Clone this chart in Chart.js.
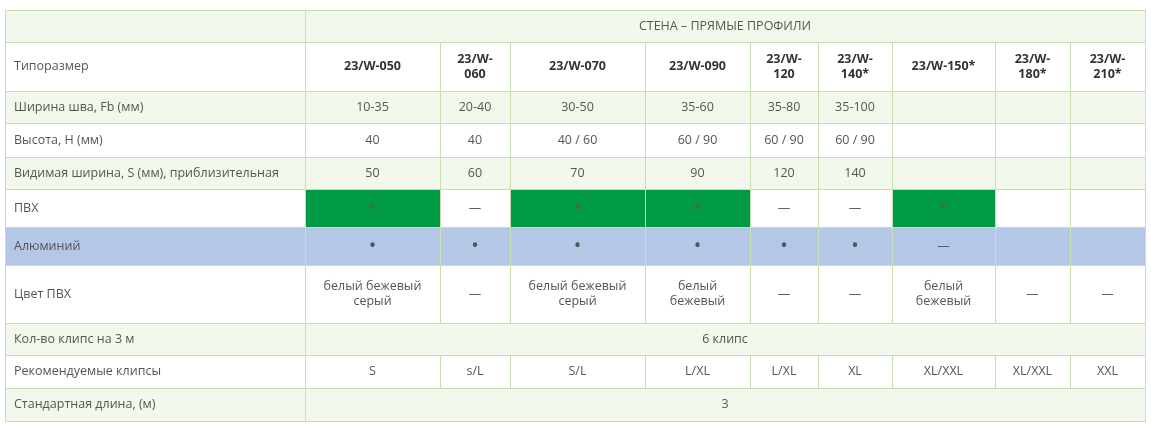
<!DOCTYPE html>
<html><head><meta charset="utf-8">
<script src="https://cdn.jsdelivr.net/npm/chart.js@4"></script>
<style>html,body{margin:0;padding:0;background:#fff}#w{width:1151px;height:425px}</style>
</head><body><div id="w"><canvas id="c"></canvas></div>
<script>
const title = "СТЕНА – ПРЯМЫЕ ПРОФИЛИ";
const rowLabels = ["Типоразмер","Ширина шва, Fb (мм)","Высота, H (мм)","Видимая ширина, S (мм), приблизительная","ПВХ","Алюминий","Цвет ПВХ","Кол-во клипс на 3 м","Рекомендуемые клипсы","Стандартная длина, (м)"];
const sizes = ["23/W-050","23/W-\n060","23/W-070","23/W-090","23/W-\n120","23/W-\n140*","23/W-150*","23/W-\n180*","23/W-\n210*"];
const seamWidth = ["10-35","20-40","30-50","35-60","35-80","35-100","","",""];
const heightH = ["40","40","40 / 60","60 / 90","60 / 90","60 / 90","","",""];
const visibleS = ["50","60","70","90","120","140","","",""];
const pvc = ["•","—","•","•","—","—","•","",""];
const alu = ["•","•","•","•","•","•","—","",""];
const pvcColor = ["белый бежевый\nсерый","—","белый бежевый\nсерый","белый\nбежевый","—","—","белый\nбежевый","—","—"];
const clipsCount = "6 клипс";
const clips = ["S","s/L","S/L","L/XL","L/XL","XL","XL/XXL","XL/XXL","XXL"];
const stdLength = "3";

// layout
const colX = [5,305,440,510,645,750,818,892,995,1070,1145];
const rowY = [10,42,91,123,157,189,227,265,323,355,388,421];
const C = {border:"#c8e0b0", light:"#f3f8ec", green:"#009a44", blue:"#b4c7e7", text:"#555", bold:"#333"};

const tablePlugin = {
  id:"table",
  afterDraw(chart){
    const ctx = chart.ctx, xs = chart.scales.x, ys = chart.scales.y;
    const X = v=>xs.getPixelForValue(v), Y = v=>ys.getPixelForValue(v);
    function cell(c0,c1,r,bg,text,opts={}){
      const x0=X(colX[c0]),x1=X(colX[c1]),y0=Y(rowY[r]),y1=Y(rowY[r+1]);
      if(bg){ctx.fillStyle=bg;ctx.fillRect(x0,y0,x1-x0,y1-y0);}
      ctx.strokeStyle=C.border;ctx.lineWidth=1;
      ctx.strokeRect(Math.round(x0)+0.5,Math.round(y0)+0.5,Math.round(x1-x0),Math.round(y1-y0));
      if(text){
        ctx.font=(opts.bold?"bold ":"")+(opts.size||12.5)+"px 'Open Sans'";
        ctx.fillStyle=opts.color||(opts.bold?C.bold:C.text);
        ctx.textBaseline="middle";
        const lines=text.split("\n"), lh=15;
        const cy=(y0+y1)/2-(lines.length-1)*lh/2;
        lines.forEach((l,i)=>{
          if(opts.left){ctx.textAlign="left";ctx.fillText(l,x0+9,cy+i*lh);}
          else{ctx.textAlign="center";ctx.fillText(l,(x0+x1)/2,cy+i*lh);}
        });
      }
    }
    const rowBg=[C.light,null,C.light,null,C.light,null,C.blue,null,C.light,null,C.light];
    cell(0,1,0,C.light,"");
    cell(1,10,0,C.light,title);
    const rows=[null,seamWidth,heightH,visibleS,pvc,alu,pvcColor,null,clips,null];
    for(let r=1;r<=10;r++){
      const bg=rowBg[r];
      cell(0,1,r,bg,rowLabels[r-1],{left:true});
      if(r===1){sizes.forEach((s,i)=>cell(i+1,i+2,r,bg,s,{bold:true}));continue;}
      if(r===8){cell(1,10,r,bg,clipsCount);continue;}
      if(r===10){cell(1,10,r,bg,stdLength);continue;}
      const arr=rows[r-1];
      arr.forEach((v,i)=>{
        let b=bg, o={};
        if(r===5 && v==="•"){b=C.green;o.color="#4a6a4a";}
        if(v==="•"){o.size=20;}
        cell(i+1,i+2,r,b,v,o);
      });
    }
  }
};

new Chart(document.getElementById("c"),{
  type:"scatter",
  data:{datasets:[{data:[]}]},
  options:{responsive:true,maintainAspectRatio:false,animation:false,
    layout:{padding:0},
    plugins:{legend:{display:false},tooltip:{enabled:false}},
    scales:{x:{type:"linear",min:0,max:1151,display:false},
            y:{type:"linear",min:0,max:425,reverse:true,display:false}}},
  plugins:[tablePlugin]
});
</script></body></html>
